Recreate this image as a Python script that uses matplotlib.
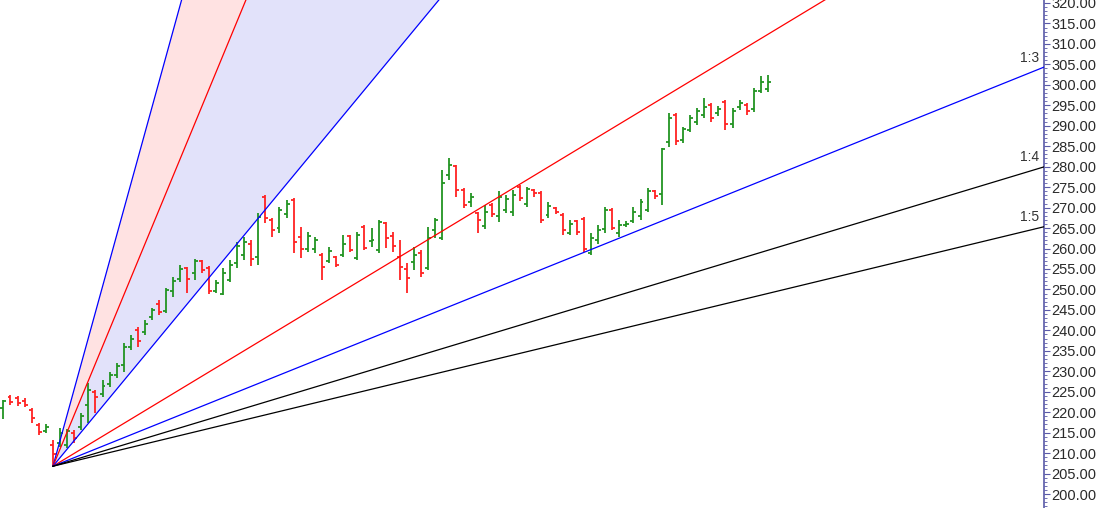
import numpy as np
import matplotlib.pyplot as plt
from matplotlib.ticker import MultipleLocator, FormatStrFormatter

# OHLC data, one bar per session
opens = [221.0, 223.8, 223.5, 222.8, 220.5, 216.8, 215.3, 212.0, 212.5, 212.0,
         215.0, 216.5, 221.7, 224.9, 224.5, 227.0, 229.0, 231.5, 236.0, 240.0,
         239.5, 243.2, 246.5, 244.7, 249.5, 252.5, 255.2, 254.0, 256.9, 255.2,
         249.6, 249.0, 252.3, 256.5, 258.5, 261.0, 257.9, 272.5, 266.9, 265.0,
         268.5, 271.9, 262.8, 259.8, 260.0, 258.4, 257.0, 257.9, 258.4, 263.0,
         257.7, 265.3, 261.8, 259.6, 266.2, 263.0, 257.9, 255.0, 256.7, 259.0,
         255.2, 264.5, 262.6, 278.0, 280.1, 274.3, 271.4, 268.7, 265.5, 270.6,
         268.0, 269.5, 268.9, 275.0, 271.0, 274.3, 273.6, 268.2, 269.9, 268.2,
         263.8, 266.7, 267.2, 259.0, 262.0, 264.8, 269.4, 263.8, 265.8, 266.7,
         267.9, 269.5, 274.0, 273.3, 286.0, 292.6, 286.5, 289.0, 291.0, 292.6,
         295.0, 293.0, 295.8, 290.5, 294.5, 295.0, 294.0, 298.5, 299.0]
highs = [223.0, 224.2, 224.0, 223.4, 221.0, 217.3, 217.1, 213.2, 216.1, 216.0,
         215.6, 219.8, 227.1, 225.4, 227.9, 229.8, 232.0, 236.9, 238.9, 240.8,
         242.5, 245.5, 247.4, 250.3, 253.0, 256.0, 255.5, 257.4, 257.2, 255.7,
         252.3, 255.2, 257.2, 261.6, 262.8, 262.1, 268.7, 273.1, 267.5, 270.1,
         271.9, 272.3, 265.3, 264.0, 262.8, 258.9, 260.4, 258.2, 263.3, 263.3,
         264.0, 265.7, 265.0, 267.0, 266.5, 264.0, 262.1, 256.5, 260.4, 259.6,
         265.3, 267.5, 279.2, 282.1, 280.4, 274.8, 273.6, 268.9, 270.6, 271.1,
         274.0, 273.1, 274.3, 275.5, 275.0, 274.6, 274.0, 271.4, 270.1, 268.7,
         267.0, 267.0, 267.7, 263.8, 265.7, 270.1, 269.9, 267.0, 266.7, 270.1,
         272.1, 274.8, 274.3, 284.6, 293.1, 293.1, 289.7, 292.6, 294.3, 296.8,
         295.6, 294.8, 296.3, 294.3, 296.3, 295.6, 299.2, 302.2, 302.4]
lows = [218.3, 221.7, 221.5, 221.2, 217.3, 214.4, 214.9, 206.8, 211.5, 211.3,
        212.4, 215.6, 217.3, 219.8, 223.7, 226.1, 228.3, 229.8, 235.2, 235.9,
        238.9, 242.5, 243.7, 244.2, 248.1, 251.8, 249.1, 252.3, 254.0, 248.9,
        249.1, 248.6, 251.8, 255.2, 257.2, 255.7, 256.0, 266.2, 262.8, 263.8,
        267.5, 258.9, 257.7, 259.1, 258.9, 252.3, 256.5, 255.5, 257.9, 259.1,
        257.2, 259.6, 260.4, 258.9, 260.1, 259.1, 252.3, 249.1, 254.7, 253.0,
        254.7, 262.6, 262.1, 276.7, 272.6, 269.9, 270.1, 263.8, 264.8, 267.7,
        266.5, 268.7, 268.0, 271.6, 270.1, 272.6, 266.2, 267.5, 268.4, 263.3,
        263.3, 263.3, 259.1, 258.4, 261.1, 263.8, 264.5, 262.8, 265.3, 266.2,
        267.0, 269.0, 272.1, 270.6, 284.8, 285.3, 285.8, 288.5, 290.2, 291.9,
        290.9, 292.4, 289.0, 289.5, 293.9, 292.6, 293.4, 298.0, 298.2]
closes = [222.7, 222.5, 222.2, 221.8, 218.6, 215.2, 216.5, 209.8, 215.0, 215.5,
          213.8, 219.0, 225.4, 223.7, 226.5, 229.0, 231.2, 236.0, 238.0, 237.5,
          241.5, 245.0, 244.5, 249.8, 252.0, 255.0, 252.5, 257.0, 254.8, 249.5,
          251.5, 254.0, 256.0, 260.5, 261.5, 257.5, 267.7, 267.5, 264.5, 269.4,
          271.0, 261.6, 260.0, 263.0, 262.0, 255.5, 259.5, 256.0, 261.0, 259.6,
          263.3, 260.1, 262.0, 266.5, 262.6, 260.5, 255.5, 252.8, 258.4, 253.9,
          262.6, 267.0, 276.0, 280.4, 274.3, 270.6, 272.6, 266.9, 269.0, 268.4,
          272.5, 272.0, 273.0, 272.3, 274.5, 273.5, 267.0, 270.5, 269.0, 264.5,
          266.0, 264.0, 260.0, 262.5, 264.5, 269.5, 265.0, 265.8, 266.0, 268.9,
          271.4, 274.0, 272.8, 284.3, 291.9, 286.3, 289.2, 291.8, 293.6, 294.5,
          292.0, 294.0, 290.5, 293.5, 295.5, 293.5, 298.5, 300.6, 300.8]

# Gann fan anchored at the swing low (bar 7)
fan_origin = (7, 206.8)
fan_unit = 2.09   # price per bar for the 1x1 line
fan_ratios = [3, 2, 1, 1 / 2, 1 / 3, 1 / 4, 1 / 5]
fan_colors = ['#0000ff', '#ff0000', '#0000ff', '#ff0000', '#0000ff', '#000000', '#000000']
fan_labels = {1 / 3: '1:3', 1 / 4: '1:4', 1 / 5: '1:5'}

x_left, x_right = -0.48, 147.0
y_low, y_high = 196.59, 320.73

fig = plt.figure(figsize=(11, 5.08), dpi=100)
ax = fig.add_axes([0, 0, 1044 / 1100, 1])
ax.set_xlim(x_left, x_right)
ax.set_ylim(y_low, y_high)

# fan fills and lines
x0, p0 = fan_origin
xs = np.array([x0, x_right])
line_y = {r: p0 + r * fan_unit * (xs - x0) for r in fan_ratios}
ax.fill_between(xs, line_y[3], line_y[2], color='#ffe2e2', lw=0, zorder=0)
ax.fill_between(xs, line_y[2], line_y[1], color='#e2e2fa', lw=0, zorder=0)
for r, c in zip(fan_ratios, fan_colors):
    ax.plot(xs, line_y[r], color=c, lw=0.9, zorder=3)
    if r in fan_labels:
        ax.text(x_right - 2.0, line_y[r][-1] + 2.3, fan_labels[r], ha='center', va='center',
                fontsize=10, color='#333333', family='Liberation Sans')

# OHLC bars
idx = np.arange(len(opens))
o, h, l, c = map(np.array, (opens, highs, lows, closes))
cols = np.where(c >= o, '#229422', '#ff2222')
ax.vlines(idx, l, h, colors=cols, lw=1.3, zorder=2)
ax.hlines(o, idx - 0.42, idx, colors=cols, lw=1.3, zorder=2)
ax.hlines(c, idx, idx + 0.42, colors=cols, lw=1.3, zorder=2)

# right price axis
for s in ['left', 'top', 'bottom']:
    ax.spines[s].set_visible(False)
ax.spines['right'].set_color('#5a5aa8')
ax.spines['right'].set_linewidth(1.2)
ax.set_xticks([])
ax.yaxis.tick_right()
ax.yaxis.set_major_locator(MultipleLocator(5))
ax.yaxis.set_minor_locator(MultipleLocator(1))
ax.yaxis.set_major_formatter(FormatStrFormatter('%.2f'))
ax.tick_params(axis='y', which='major', length=4, width=0.8, color='#5a5aa8', pad=1.5,
               labelsize=10.5, labelcolor='#2a2a2a')
ax.tick_params(axis='y', which='minor', length=2, width=0.6, color='#5a5aa8')
for lab in ax.get_yticklabels():
    lab.set_family('Liberation Sans')

fig.savefig('out.png', dpi=100)
